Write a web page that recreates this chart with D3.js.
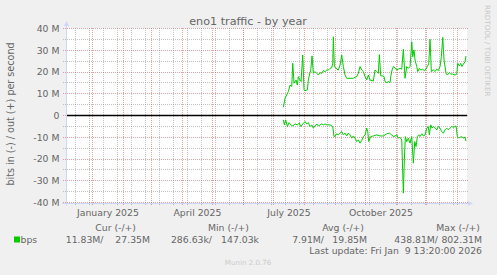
<!DOCTYPE html>
<html>
<head>
<meta charset="utf-8">
<script src="https://cdn.jsdelivr.net/npm/d3@7"></script>
<style>
  body { margin: 0; background: #f0f0f0; }
  svg { display: block; font-family: "DejaVu Sans", sans-serif; }
  text { white-space: pre; }
</style>
</head>
<body>
<svg id="chart" width="497" height="275"></svg>
<script>
// sample times are days since 2025-01-01 00:00 UTC, values in Mbit/s
var outDays = [190.9, 192.6, 195.9, 197.6, 199.3, 200.3, 201.6, 203.6, 204.9, 205.9,
  207.6, 208.6, 210.3, 211.6, 212.6, 214.9, 215.9, 216.9, 218.3, 219.6,
  220.9, 222.6, 224.3, 225.9, 227.6, 229.3, 230.9, 232.6, 234.3, 235.9,
  237.6, 239.3, 240.3, 240.9, 241.9, 243.6, 245.9, 247.6, 249.3, 250.9,
  252.6, 254.3, 257.6, 260.9, 262.6, 264.3, 265.9, 267.6, 269.3, 270.9,
  272.6, 274.3, 275.9, 277.6, 280.9, 282.6, 284.3, 285.9, 286.9, 288.3,
  290.3, 291.6, 292.6, 294.3, 295.9, 297.6, 298.6, 299.6, 300.9, 302.6,
  304.3, 305.9, 307.6, 309.3, 310.9, 312.6, 314.3, 315.9, 317.6, 319.3,
  320.3, 321.6, 322.6, 324.3, 325.3, 326.9, 328.3, 330.3, 331.9, 333.6,
  334.9, 336.3, 337.6, 338.9, 340.9, 342.6, 344.3, 345.9, 347.6, 348.9,
  350.3, 351.6, 353.6, 354.9, 356.9, 358.3, 360.3, 362.6, 364.3, 365.3,
  366.9, 368.3, 369.6, 370.9, 372.6, 373.55];
var outValues = [3.8, 7.9, 11.0, 14.0, 13.3, 24.0, 14.8, 16.3, 14.0, 17.9,
  16.3, 15.6, 27.8, 11.8, 11.4, 11.8, 16.3, 18.6, 20.9, 27.4,
  19.4, 20.2, 19.4, 18.6, 19.7, 19.4, 20.6, 20.2, 20.9, 20.9,
  21.7, 22.0, 24.0, 36.2, 22.5, 21.7, 20.9, 23.2, 27.8, 22.5,
  18.6, 17.1, 17.1, 17.1, 17.6, 17.9, 19.4, 22.5, 20.9, 20.2,
  17.9, 16.3, 18.6, 16.3, 15.9, 20.9, 20.2, 19.4, 28.0, 18.2,
  18.2, 17.9, 15.6, 15.1, 15.6, 15.1, 18.6, 20.9, 22.5, 22.0,
  20.9, 21.3, 21.7, 21.3, 30.4, 17.1, 22.5, 21.7, 22.5, 33.9,
  27.0, 30.1, 25.5, 22.5, 20.2, 21.7, 20.9, 21.3, 20.6, 21.3,
  22.5, 24.0, 35.0, 20.2, 20.9, 20.2, 21.3, 20.6, 22.5, 27.0,
  35.9, 25.5, 19.4, 18.6, 19.7, 19.1, 19.0, 18.6, 19.0, 24.0,
  22.8, 24.0, 22.5, 23.6, 24.7, 27.35];
var inDays = [190.9, 191.9, 193.3, 194.9, 196.6, 198.3, 200.3, 202.6, 204.9, 206.9,
  208.3, 210.3, 212.6, 214.3, 215.9, 217.6, 219.3, 220.9, 222.6, 224.3,
  225.9, 227.6, 229.3, 230.9, 232.6, 234.3, 237.6, 240.3, 241.6, 242.9,
  244.3, 245.9, 247.6, 249.3, 250.9, 252.6, 254.3, 255.9, 257.6, 259.3,
  260.9, 262.6, 264.3, 265.9, 267.6, 269.3, 270.9, 272.6, 274.3, 275.3,
  276.3, 278.3, 280.9, 284.3, 287.6, 290.9, 294.3, 296.9, 299.3, 300.9,
  302.6, 304.3, 305.9, 307.6, 309.3, 310.9, 311.9, 312.9, 314.3, 315.9,
  317.6, 319.3, 320.9, 322.3, 323.6, 324.9, 326.3, 327.6, 329.3, 330.9,
  332.6, 334.3, 335.9, 336.9, 338.3, 339.6, 340.9, 342.6, 344.3, 345.9,
  347.6, 349.3, 350.9, 352.6, 354.3, 355.9, 357.6, 359.3, 360.9, 362.6,
  363.6, 364.9, 366.3, 367.6, 369.3, 370.9, 372.6, 373.55];
// bits in, drawn below zero
var inValues = [2.0, 4.3, 2.0, 5.1, 3.3, 4.3, 4.8, 3.9, 4.3, 3.5,
  5.1, 3.9, 2.8, 3.9, 3.3, 5.1, 4.3, 5.8, 4.8, 3.9,
  4.8, 4.3, 3.9, 4.3, 3.9, 4.3, 4.3, 5.1, 9.7, 9.4,
  8.4, 8.9, 8.1, 7.4, 8.9, 8.1, 9.4, 8.1, 8.9, 10.4,
  9.4, 10.4, 12.0, 11.2, 12.7, 11.5, 9.7, 8.9, 5.8, 7.4,
  12.0, 9.7, 9.4, 8.9, 9.4, 9.4, 8.4, 8.1, 8.9, 9.7,
  9.4, 8.9, 10.4, 10.0, 11.2, 35.7, 20.4, 9.7, 12.0, 10.4,
  12.7, 9.7, 21.9, 12.0, 14.3, 9.7, 8.9, 9.7, 8.4, 9.4,
  8.9, 5.8, 5.1, 8.9, 4.3, 5.8, 5.1, 5.8, 6.6, 5.1,
  5.8, 7.4, 8.1, 6.6, 5.8, 6.6, 5.8, 5.1, 5.4, 5.1,
  4.8, 9.7, 10.4, 10.0, 9.7, 10.4, 10.0, 11.83];

var yTicks = [-40, -30, -20, -10, 0, 10, 20, 30, 40];
var yMinorTicks = [-35, -25, -15, -5, 5, 15, 25, 35];
var legendHeaders = ["Cur (-/+)", "Min (-/+)", "Avg (-/+)", "Max (-/+)"];
var legendIn = ["11.83M/", "286.63k/", "7.91M/", "438.81M/"];
var legendOut = ["27.35M", "147.03k", "19.85M", "802.31M"];
var titleText = "eno1 traffic - by year";
var unitText = "bits in (-) / out (+) per second";
var lastUpdate = "Last update: Fri Jan  9 13:20:00 2026";

var fontColor = "#666666",
  axisColor = "#cfd6f8",
  lineColor = "#00cc00",
  gridColor = "rgba(143,143,143,0.55)",
  mgridColor = "rgba(222,79,79,0.55)";

var base = Date.UTC(2025, 0, 1);
function dayToDate(d) { return new Date(base + d * 864e5); }

var start = new Date(Date.UTC(2024, 11, 5, 13, 20)),
  end = new Date(Date.UTC(2026, 0, 9, 13, 20));

var xScale = d3.scaleUtc().domain([start, end]).range([66, 466]);
var yScale = d3.scaleLinear().domain([-40, 40]).range([202.5, 28.5]);

var svg = d3.select('#chart');

svg.append('rect')
  .attr('x', 66).attr('y', 28)
  .attr('width', 401).attr('height', 175)
  .attr('fill', '#ffffff');

function px(v) { return Math.floor(v) + 0.5; }

function vlines(dates, color) {
  svg.append('g')
    .attr('shape-rendering', 'crispEdges')
    .selectAll('line')
    .data(dates)
    .enter().append('line')
      .attr('x1', d => px(xScale(d)))
      .attr('x2', d => px(xScale(d)))
      .attr('y1', 28).attr('y2', 206)
      .attr('stroke', color)
      .attr('stroke-dasharray', '1,1');
}

function hlines(values, color) {
  svg.append('g')
    .attr('shape-rendering', 'crispEdges')
    .selectAll('line')
    .data(values)
    .enter().append('line')
      .attr('x1', 63).attr('x2', 469)
      .attr('y1', d => px(yScale(d)))
      .attr('y2', d => px(yScale(d)))
      .attr('stroke', color)
      .attr('stroke-dasharray', '1,1');
}

// minor grid every other week, major grid every month
var minorX = d3.utcSunday.range(new Date(Date.UTC(2024, 11, 15)), end, 2);
var majorX = d3.utcMonth.range(start, end);

vlines(minorX, gridColor);
hlines(yMinorTicks, gridColor);
vlines(majorX, mgridColor);
hlines(yTicks, mgridColor);

// traffic lines
var line = d3.line()
  .x(d => xScale(dayToDate(d[0])))
  .y(d => yScale(d[1]));

svg.append('path')
  .datum(d3.zip(outDays, outValues))
  .attr('d', line)
  .attr('fill', 'none')
  .attr('stroke', lineColor)
  .attr('stroke-width', 1);

svg.append('path')
  .datum(d3.zip(inDays, inValues.map(v => -v)))
  .attr('d', line)
  .attr('fill', 'none')
  .attr('stroke', lineColor)
  .attr('stroke-width', 1);

// zero rule
svg.append('line')
  .attr('x1', 66).attr('x2', 467)
  .attr('y1', px(yScale(0))).attr('y2', px(yScale(0)))
  .attr('stroke', '#000000')
  .attr('stroke-width', 1.3);

// axes with arrows
svg.append('line')
  .attr('x1', 62).attr('x2', 470)
  .attr('y1', 203.5).attr('y2', 203.5)
  .attr('stroke', axisColor);
svg.append('line')
  .attr('x1', 66.5).attr('x2', 66.5)
  .attr('y1', 206).attr('y2', 24)
  .attr('stroke', axisColor);
svg.append('path')
  .attr('d', 'M468,201L473,203.5L468,206Z')
  .attr('fill', axisColor);
svg.append('path')
  .attr('d', 'M64,26L66.5,21L69,26Z')
  .attr('fill', axisColor);

// y labels
svg.selectAll('.ylab')
    .data(yTicks)
  .enter().append('text')
    .attr('x', 59.5)
    .attr('y', d => yScale(d) + 3.4)
    .attr('text-anchor', 'end')
    .attr('font-size', '9.3px')
    .attr('fill', fontColor)
    .text(d => d === 0 ? '0' : d + ' M');

// x labels, centred on their month
var labelMonths = d3.utcMonth.every(3).range(start, end)
  .filter(d => d3.utcMonth.offset(d, 1) <= end);
svg.selectAll('.xlab')
    .data(labelMonths)
  .enter().append('text')
    .attr('x', d => (xScale(d) + xScale(d3.utcMonth.offset(d, 1))) / 2)
    .attr('y', 215.5)
    .attr('text-anchor', 'middle')
    .attr('font-size', '9.3px')
    .attr('fill', fontColor)
    .text(d => d3.utcFormat('%B %Y')(d));

svg.append('text')
  .attr('x', 248).attr('y', 24.5)
  .attr('text-anchor', 'middle')
  .attr('font-size', '11.2px')
  .attr('fill', fontColor)
  .text(titleText);

svg.append('text')
  .attr('transform', 'translate(14.3,114) rotate(-90)')
  .attr('text-anchor', 'middle')
  .attr('font-size', '9.6px')
  .attr('fill', fontColor)
  .text(unitText);

svg.append('text')
  .attr('transform', 'translate(484.5,5) rotate(90)')
  .attr('font-size', '7.1px')
  .attr('fill', '#c8c8c8')
  .text('RRDTOOL / TOBI OETIKER');

// legend
var headerRight = [136, 249, 364, 480],
  inRight = [103.5, 212, 324, 438],
  outRight = [150, 259, 367, 482];

svg.selectAll('.lhead')
    .data(legendHeaders)
  .enter().append('text')
    .attr('x', (d, i) => headerRight[i])
    .attr('y', 230.5)
    .attr('text-anchor', 'end')
    .attr('font-size', '9.3px')
    .attr('fill', fontColor)
    .text(d => d);

svg.append('rect')
  .attr('x', 14).attr('y', 236.5)
  .attr('width', 6).attr('height', 6)
  .attr('fill', lineColor);
svg.append('text')
  .attr('x', 20.5).attr('y', 242.5)
  .attr('font-size', '9.3px')
  .attr('fill', fontColor)
  .text('bps');

svg.selectAll('.lin')
    .data(legendIn)
  .enter().append('text')
    .attr('x', (d, i) => inRight[i])
    .attr('y', 242.5)
    .attr('text-anchor', 'end')
    .attr('font-size', '9.3px')
    .attr('fill', fontColor)
    .text(d => d);

svg.selectAll('.lout')
    .data(legendOut)
  .enter().append('text')
    .attr('x', (d, i) => outRight[i])
    .attr('y', 242.5)
    .attr('text-anchor', 'end')
    .attr('font-size', '9.3px')
    .attr('fill', fontColor)
    .text(d => d);

svg.append('text')
  .attr('x', 482).attr('y', 254.3)
  .attr('text-anchor', 'end')
  .attr('font-size', '9.3px')
  .attr('fill', fontColor)
  .text(lastUpdate);

svg.append('text')
  .attr('x', 248).attr('y', 264.5)
  .attr('text-anchor', 'middle')
  .attr('font-size', '7.1px')
  .attr('fill', '#cccccc')
  .text('Munin 2.0.76');
</script>
</body>
</html>
